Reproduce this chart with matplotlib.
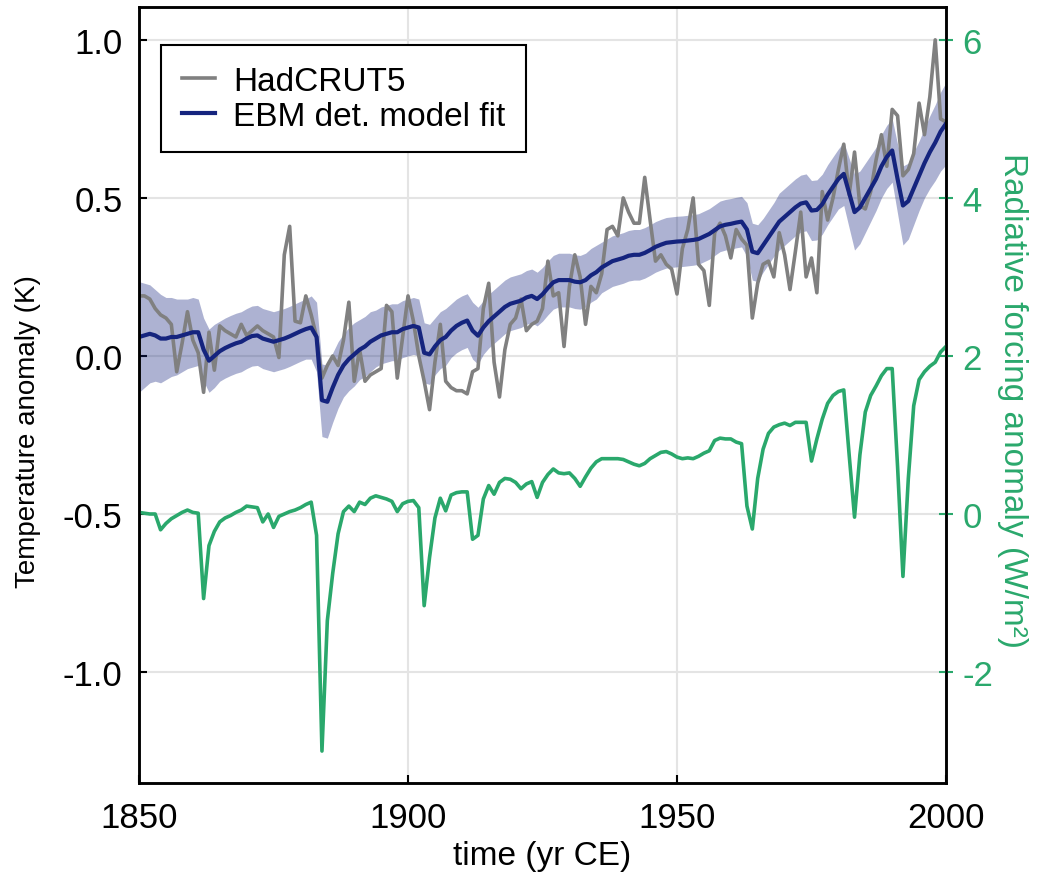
import numpy as np
import matplotlib
matplotlib.use('Agg')
import matplotlib.pyplot as plt

plt.rcParams['font.family'] = ['Liberation Sans', 'DejaVu Sans']
plt.rcParams['axes.unicode_minus'] = False

years = np.arange(1850, 2001)

# HadCRUT5 annual anomaly (K)
hadcrut5 = [
    0.19, 0.19, 0.18, 0.15, 0.13, 0.12, 0.10, -0.05, 0.04, 0.14,      # 1850s
    0.05, 0.01, -0.115, 0.075, -0.045, 0.095, 0.08, 0.07, 0.06, 0.10,  # 1860s
    0.065, 0.08, 0.095, 0.08, 0.07, 0.06, -0.005, 0.32, 0.41, 0.11,   # 1870s
    0.105, 0.19, 0.13, 0.06, -0.07, -0.03, 0.0, -0.03, 0.05, 0.17,    # 1880s
    -0.08, 0.02, -0.08, -0.06, -0.05, -0.04, 0.16, 0.14, -0.07, 0.06, # 1890s
    0.19, 0.11, 0.0, -0.08, -0.17, -0.02, 0.10, -0.08, -0.10, -0.11,  # 1900s
    -0.11, -0.12, -0.05, -0.04, 0.15, 0.23, -0.02, -0.13, 0.02, 0.10, # 1910s
    0.12, 0.18, 0.08, 0.10, 0.11, 0.15, 0.30, 0.19, 0.20, 0.03,       # 1920s
    0.22, 0.32, 0.25, 0.10, 0.22, 0.20, 0.26, 0.40, 0.41, 0.38,       # 1930s
    0.50, 0.455, 0.42, 0.42, 0.565, 0.43, 0.30, 0.32, 0.29, 0.275,    # 1940s
    0.196, 0.34, 0.40, 0.50, 0.29, 0.27, 0.16, 0.39, 0.42, 0.38,      # 1950s
    0.31, 0.40, 0.37, 0.35, 0.12, 0.23, 0.29, 0.30, 0.25, 0.39,       # 1960s
    0.32, 0.21, 0.33, 0.455, 0.25, 0.31, 0.20, 0.52, 0.43, 0.50,      # 1970s
    0.59, 0.67, 0.51, 0.645, 0.476, 0.465, 0.52, 0.62, 0.70, 0.60,    # 1980s
    0.78, 0.76, 0.57, 0.59, 0.64, 0.80, 0.70, 0.82, 1.00, 0.75,       # 1990s
    0.74,                                                              # 2000
]

# EBM deterministic model fit (K)
ebm_fit = [
    0.06, 0.065, 0.07, 0.065, 0.055, 0.055, 0.06, 0.06, 0.065, 0.07,
    0.075, 0.075, 0.02, -0.015, 0.0, 0.015, 0.025, 0.033, 0.04, 0.045,
    0.055, 0.063, 0.065, 0.055, 0.05, 0.045, 0.05, 0.055, 0.062, 0.07,
    0.078, 0.085, 0.09, 0.06, -0.14, -0.145, -0.10, -0.06, -0.03, -0.01,
    0.005, 0.02, 0.03, 0.045, 0.055, 0.065, 0.07, 0.075, 0.075, 0.085,
    0.09, 0.095, 0.09, 0.01, 0.005, 0.03, 0.05, 0.06, 0.08, 0.095,
    0.105, 0.112, 0.08, 0.064, 0.09, 0.11, 0.125, 0.14, 0.155, 0.165,
    0.17, 0.175, 0.185, 0.19, 0.18, 0.195, 0.215, 0.233, 0.24, 0.24,
    0.24, 0.235, 0.233, 0.24, 0.255, 0.265, 0.28, 0.29, 0.30, 0.305,
    0.31, 0.317, 0.32, 0.32, 0.326, 0.335, 0.345, 0.352, 0.358, 0.36,
    0.362, 0.363, 0.365, 0.367, 0.37, 0.378, 0.386, 0.398, 0.41, 0.415,
    0.418, 0.422, 0.425, 0.40, 0.33, 0.325, 0.35, 0.375, 0.40, 0.425,
    0.44, 0.455, 0.47, 0.482, 0.486, 0.46, 0.462, 0.48, 0.51, 0.535,
    0.56, 0.576, 0.515, 0.455, 0.47, 0.50, 0.53, 0.56, 0.60, 0.63,
    0.65, 0.56, 0.476, 0.49, 0.53, 0.57, 0.61, 0.645, 0.675, 0.71,
    0.735,
]

# half width of the shaded uncertainty band (K)
ebm_band = [
    0.175, 0.165, 0.155, 0.145, 0.14, 0.13, 0.125, 0.12, 0.115, 0.11,
    0.11, 0.105, 0.10, 0.10, 0.10, 0.095, 0.095, 0.095, 0.095, 0.095,
    0.095, 0.095, 0.095, 0.095, 0.095, 0.095, 0.095, 0.095, 0.095, 0.095,
    0.095, 0.095, 0.10, 0.11, 0.115, 0.115, 0.11, 0.105, 0.10, 0.10,
    0.10, 0.095, 0.095, 0.095, 0.09, 0.09, 0.09, 0.09, 0.09, 0.09,
    0.09, 0.09, 0.09, 0.095, 0.095, 0.09, 0.09, 0.09, 0.085, 0.085,
    0.085, 0.085, 0.09, 0.09, 0.085, 0.085, 0.085, 0.085, 0.085, 0.085,
    0.085, 0.085, 0.085, 0.085, 0.085, 0.085, 0.085, 0.085, 0.085, 0.085,
    0.085, 0.085, 0.085, 0.085, 0.085, 0.085, 0.08, 0.08, 0.08, 0.08,
    0.08, 0.08, 0.08, 0.08, 0.08, 0.08, 0.08, 0.08, 0.08, 0.08,
    0.08, 0.08, 0.08, 0.08, 0.08, 0.08, 0.08, 0.08, 0.08, 0.08,
    0.08, 0.08, 0.08, 0.085, 0.09, 0.09, 0.085, 0.085, 0.085, 0.09,
    0.09, 0.09, 0.09, 0.09, 0.09, 0.095, 0.095, 0.095, 0.095, 0.095,
    0.095, 0.10, 0.11, 0.12, 0.115, 0.11, 0.105, 0.10, 0.10, 0.10,
    0.10, 0.11, 0.125, 0.12, 0.115, 0.11, 0.11, 0.115, 0.12, 0.125,
    0.13,
]

# radiative forcing anomaly (W/m2), right axis
forcing = [
    0.02, 0.01, 0.0, 0.0, -0.20, -0.12, -0.06, -0.02, 0.02, 0.05,
    0.02, 0.01, -1.07, -0.40, -0.22, -0.10, -0.05, -0.02, 0.02, 0.05,
    0.10, 0.09, 0.08, -0.10, 0.0, -0.17, -0.03, 0.0, 0.03, 0.05,
    0.08, 0.12, 0.15, -0.27, -3.0, -1.35, -0.75, -0.25, 0.03, 0.10,
    0.03, 0.15, 0.12, 0.20, 0.23, 0.21, 0.19, 0.16, 0.03, 0.13,
    0.16, 0.17, 0.08, -1.16, -0.55, -0.05, 0.20, 0.04, 0.24, 0.27,
    0.28, 0.28, -0.32, -0.27, 0.19, 0.36, 0.25, 0.40, 0.45, 0.44,
    0.40, 0.32, 0.38, 0.41, 0.21, 0.40, 0.50, 0.57, 0.52, 0.51,
    0.52, 0.45, 0.35, 0.47, 0.58, 0.66, 0.70, 0.70, 0.70, 0.70,
    0.69, 0.66, 0.63, 0.61, 0.64, 0.70, 0.74, 0.78, 0.79, 0.76,
    0.72, 0.70, 0.71, 0.70, 0.73, 0.77, 0.80, 0.93, 0.96, 0.95,
    0.95, 0.91, 0.89, 0.10, -0.19, 0.45, 0.82, 1.02, 1.10, 1.13,
    1.15, 1.12, 1.16, 1.16, 1.16, 0.67, 0.95, 1.20, 1.40, 1.50,
    1.55, 1.57, 0.75, -0.04, 0.75, 1.29, 1.50, 1.62, 1.75, 1.84,
    1.84, 0.60, -0.79, 0.45, 1.37, 1.70, 1.80, 1.87, 1.92, 2.05,
    2.12,
]

GRAY = '#808080'
NAVY = '#15247e'
GREEN = '#2aa86c'

fig = plt.figure(figsize=(10.4, 8.79), dpi=100)
ax = fig.add_axes([0.1337, 0.1081, 0.7759, 0.8828])
ax2 = ax.twinx()

fit = np.array(ebm_fit)
hw = np.array(ebm_band)
ax.fill_between(years, fit - hw, fit + hw, color=NAVY, alpha=0.35, lw=0)
ax.plot(years, hadcrut5, color=GRAY, lw=2.6, label='HadCRUT5')
ax.plot(years, ebm_fit, color=NAVY, lw=3.0, label='EBM det. model fit')
ax2.plot(years, forcing, color=GREEN, lw=2.6)

ax.set_xlim(1850, 2000)
ax.set_ylim(-1.351, 1.104)
ax2.set_ylim(-3.404, 6.416)

ax.set_xticks([1850, 1900, 1950, 2000])
ax.set_yticks([-1.0, -0.5, 0.0, 0.5, 1.0])
ax.set_yticklabels(['-1.0', '-0.5', '0.0', '0.5', '1.0'])
ax2.set_yticks([-2, 0, 2, 4, 6])

ax.grid(True, color='#e4e4e4', lw=1.5)
ax.set_axisbelow(True)

ax.tick_params(axis='both', direction='in', length=6, width=1.5,
               labelsize=25, right=False, top=False)
ax.tick_params(axis='x', pad=13)
ax.tick_params(axis='y', pad=12)
ax2.tick_params(axis='y', direction='inout', length=10, width=1.5,
                colors=GREEN, labelsize=25, pad=7)

for a in (ax, ax2):
    for s in a.spines.values():
        s.set_linewidth(1.8)
        s.set_color('black')

ax.set_xlabel('time (yr CE)', fontsize=24, labelpad=4)
ax.set_ylabel('Temperature anomaly (K)', fontsize=20, va='center', ha='center')
ax.yaxis.set_label_coords(-0.1375, 0.4536)
ax2.set_ylabel('Radiative forcing anomaly (W/m²)', fontsize=24, color=GREEN,
               rotation=270, va='center', ha='center')
ax2.yaxis.set_label_coords(1.083, 0.4948)

leg = ax.legend(loc='upper left', bbox_to_anchor=(0.027, 0.951),
                fontsize=24, frameon=True, fancybox=False, framealpha=1,
                edgecolor='black', borderpad=0.62, labelspacing=0.12,
                handlelength=1.0, handletextpad=0.55, borderaxespad=0)
leg.get_frame().set_linewidth(1.5)

fig.savefig('out.png', dpi=100)
